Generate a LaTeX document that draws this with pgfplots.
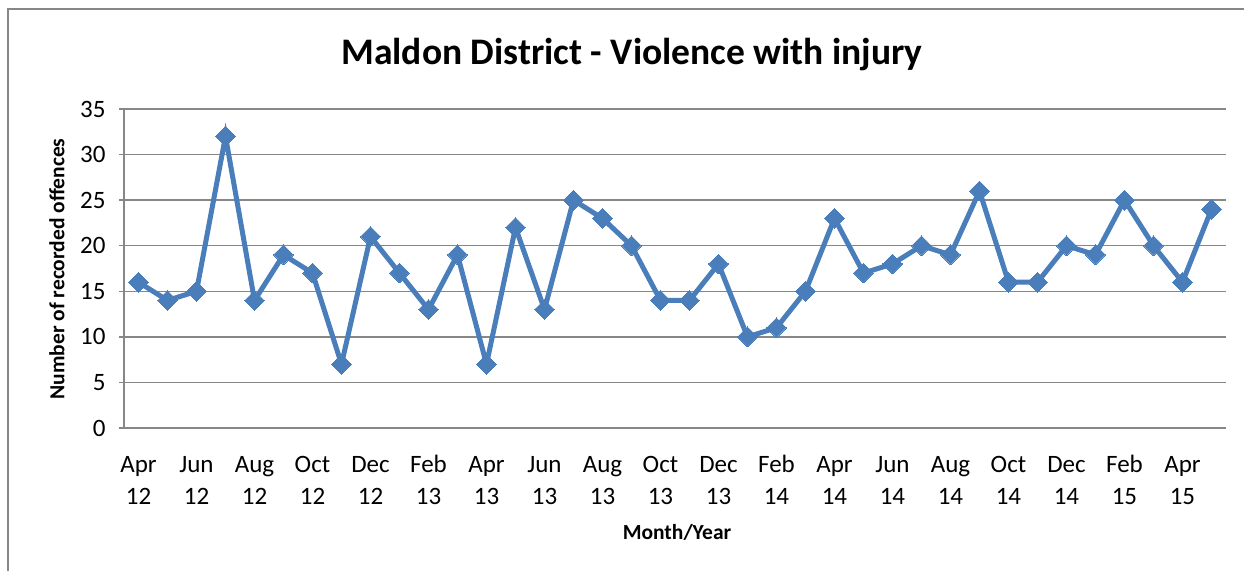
\documentclass[border=0pt]{standalone}
\usepackage{pgfplots}
\pgfplotsset{compat=1.18}
\usepackage{fontspec}
\setmainfont{Carlito}
\definecolor{gridc}{HTML}{878787}
\definecolor{linec}{HTML}{4A7EBB}
\begin{document}
\begin{tikzpicture}[x=1pt,y=1pt]
\useasboundingbox (0,0) rectangle (1244,571);
\draw[gridc,line width=1.5pt] (8,0) -- (8,562) -- (1244,562);
\begin{axis}[
  at={(124pt,143pt)}, anchor=south west,
  scale only axis, width=1102pt, height=319pt,
  xmin=-0.5, xmax=37.5, ymin=0, ymax=35,
  ytick={0,5,...,35},
  xtick={0,2,...,36},
  xticklabels={{\strut Apr\\\strut 12},{\strut Jun\\\strut 12},{\strut Aug\\\strut 12},{\strut Oct\\\strut 12},{\strut Dec\\\strut 12},{\strut Feb\\\strut 13},{\strut Apr\\\strut 13},{\strut Jun\\\strut 13},{\strut Aug\\\strut 13},{\strut Oct\\\strut 13},{\strut Dec\\\strut 13},{\strut Feb\\\strut 14},{\strut Apr\\\strut 14},{\strut Jun\\\strut 14},{\strut Aug\\\strut 14},{\strut Oct\\\strut 14},{\strut Dec\\\strut 14},{\strut Feb\\\strut 15},{\strut Apr\\\strut 15}},
  xticklabel style={align=center, font=\fontsize{25}{32}\selectfont, yshift=-14pt},
  yticklabel style={font=\fontsize{25}{30}\selectfont, xshift=-10pt},
  /pgf/number format/assume math mode=true,
  axis x line*=bottom, axis y line*=left,
  x axis line style={draw=gridc, line width=1.5pt, -},
  y axis line style={draw=gridc, line width=1.5pt, -},
  ymajorgrids, grid style={gridc, line width=1.5pt},
  tick align=outside, major tick length=5pt,
  ytick style={gridc, line width=1.5pt},
  xtick style={draw=none},
  clip=false,
]
\addplot[linec, line width=5pt, mark=square*, mark size=7pt, mark options={fill=linec, draw=linec, line width=0pt, rotate=45}] coordinates {
(0,16)(1,14)(2,15)(3,32)(4,14)(5,19)(6,17)(7,7)(8,21)(9,17)(10,13)(11,19)(12,7)(13,22)(14,13)(15,25)(16,23)(17,20)(18,14)(19,14)(20,18)(21,10)(22,11)(23,15)(24,23)(25,17)(26,18)(27,20)(28,19)(29,26)(30,16)(31,16)(32,20)(33,19)(34,25)(35,20)(36,16)(37,24)
};
\end{axis}
\node[font=\fontsize{37.5}{44}\selectfont\bfseries] at (632,516) {Maldon District - Violence with injury};
\node[font=\fontsize{21.5}{26}\selectfont\bfseries, rotate=90] at (57,302) {Number of recorded offences};
\node[font=\fontsize{21.5}{26}\selectfont\bfseries] at (677,39) {Month/Year};
\end{tikzpicture}
\end{document}
